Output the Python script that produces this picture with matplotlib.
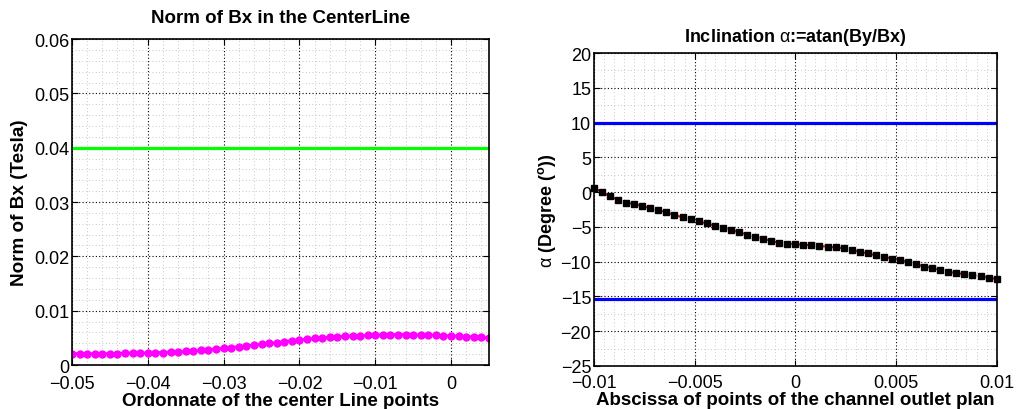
import numpy as np
import matplotlib
matplotlib.use("Agg")
import matplotlib.pyplot as plt
from matplotlib.ticker import MultipleLocator

plt.rcParams['font.family'] = ['Liberation Sans', 'DejaVu Sans']
plt.rcParams['mathtext.fontset'] = 'custom'
plt.rcParams['mathtext.rm'] = 'Liberation Sans'
plt.rcParams['mathtext.bf'] = 'Liberation Sans:bold'

# ---------------- Data ----------------
# Left chart: Norm of Bx along the centre line
left_x_start, left_x_step = -0.05, 0.001
bx_norm = [0.0021, 0.0021, 0.0021, 0.0021, 0.0021, 0.0021, 0.0021, 0.0022, 0.0022, 0.0022,
           0.0022, 0.0023, 0.0023, 0.0024, 0.0024, 0.0025, 0.0026, 0.0027, 0.0028, 0.0030,
           0.0031, 0.0032, 0.0034, 0.0035, 0.0037, 0.0038, 0.0040, 0.0041, 0.0043, 0.0045,
           0.0046, 0.0048, 0.0049, 0.0050, 0.0051, 0.0052, 0.0053, 0.0054, 0.0054, 0.0055,
           0.0055, 0.0055, 0.0056, 0.0056, 0.0056, 0.0056, 0.0055, 0.0055, 0.0055, 0.0054,
           0.0054, 0.0053, 0.0052, 0.0052, 0.0051, 0.0050]
bx_reference = 0.04
left_xticks = [-0.05, -0.04, -0.03, -0.02, -0.01, 0]
left_xticklabels = ['\u22120.05', '\u22120.04', '\u22120.03', '\u22120.02', '\u22120.01', '0']
left_yticks = [0, 0.01, 0.02, 0.03, 0.04, 0.05, 0.06]
left_yticklabels = ['0', '0.01', '0.02', '0.03', '0.04', '0.05', '0.06']

# Right chart: inclination angle
right_x_start, right_x_step = -0.01, 0.0004
alpha_deg = [0.6, 0.0, -0.6, -1.1, -1.5, -1.7, -2.0, -2.3, -2.6, -2.9,
             -3.3, -3.6, -3.9, -4.2, -4.5, -4.8, -5.1, -5.4, -5.75, -6.1,
             -6.4, -6.7, -7.0, -7.3, -7.4, -7.5, -7.55, -7.65, -7.75, -7.85,
             -7.95, -8.05, -8.3, -8.6, -8.8, -9.1, -9.3, -9.55, -9.75, -10.05,
             -10.35, -10.7, -10.9, -11.2, -11.45, -11.65, -11.8, -11.95, -12.1, -12.3,
             -12.5]
alpha_upper = 10
alpha_lower = -15.3
right_xticks = [-0.01, -0.005, 0, 0.005, 0.01]
right_xticklabels = ['\u22120.01', '\u22120.005', '0', '0.005', '0.01']
right_yticks = [-25, -20, -15, -10, -5, 0, 5, 10, 15, 20]
right_yticklabels = ['\u221225', '\u221220', '\u221215', '\u221210', '\u22125', '0', '5', '10', '15', '20']

x_left = left_x_start + left_x_step * np.arange(len(bx_norm))
x_right = right_x_start + right_x_step * np.arange(len(alpha_deg))

fig = plt.figure(figsize=(10.17, 4.10), dpi=100)
ax1 = fig.add_axes([0.0708, 0.1073, 0.410, 0.795])
ax2 = fig.add_axes([0.584, 0.105, 0.396, 0.763])

def style(ax, xpad):
    ax.tick_params(which='major', direction='in', length=4, width=0.8, top=True, right=True,
                   labelsize=13, pad=2)
    ax.tick_params(axis='x', which='major', pad=xpad)
    ax.tick_params(which='minor', length=0)
    ax.grid(True, which='major', linestyle=(0, (1, 2)), color='black', linewidth=0.8)
    ax.grid(True, which='minor', linestyle=(0, (1, 3)), color='#b5b5b5', linewidth=0.6)
    for s in ax.spines.values():
        s.set_linewidth(1.2)
    ax.set_axisbelow(True)

# Left
ax1.plot(x_left, [bx_reference] * len(x_left), color='#00ff00', linewidth=2.3)
ax1.plot(x_left, bx_norm, color='#ff00ff', linewidth=2, marker='o', markersize=5)
ax1.set_xlim(-0.05, 0.005)
ax1.set_ylim(0, 0.06)
ax1.set_xticks(left_xticks)
ax1.set_xticklabels(left_xticklabels)
ax1.set_yticks(left_yticks)
ax1.set_yticklabels(left_yticklabels)
ax1.xaxis.set_minor_locator(MultipleLocator(0.002))
ax1.yaxis.set_minor_locator(MultipleLocator(0.002))
style(ax1, 7)
ax1.set_title('Norm of Bx in the CenterLine', fontsize=13.5, fontweight='bold', pad=12)
ax1.set_xlabel('Ordonnate of the center Line points', fontsize=13.5, fontweight='bold', labelpad=0)
ax1.set_ylabel('Norm of Bx (Tesla)', fontsize=13.6, fontweight='bold', labelpad=4)

# Right
ax2.plot(x_right, [alpha_upper] * len(x_right), color='#0000ff', linewidth=2.3)
ax2.plot(x_right, [alpha_lower] * len(x_right), color='#0000ff', linewidth=2.3)
ax2.plot(x_right, alpha_deg, color='red', linestyle='--', linewidth=1.5,
         marker='s', markersize=4.5, markerfacecolor='black', markeredgecolor='black',
         clip_on=False)
ax2.set_xlim(-0.01, 0.01)
ax2.set_ylim(-25, 20)
ax2.set_xticks(right_xticks)
ax2.set_xticklabels(right_xticklabels)
ax2.set_yticks(right_yticks)
ax2.set_yticklabels(right_yticklabels)
ax2.xaxis.set_minor_locator(MultipleLocator(0.0005))
ax2.yaxis.set_minor_locator(MultipleLocator(2.5))
style(ax2, 6)
ax2.set_title(r'Inclination $\mathrm{\alpha}$:=atan(By/Bx)', fontsize=13, fontweight='bold', pad=9)
ax2.set_xlabel('Abscissa of points of the channel outlet plan', fontsize=13.5, fontweight='bold', labelpad=0)
ax2.set_ylabel(r'$\mathrm{\alpha}$ (Degree ($^{\mathbf{o}}$))', fontsize=13, fontweight='bold', labelpad=2)

fig.savefig('out.png', dpi=100)
